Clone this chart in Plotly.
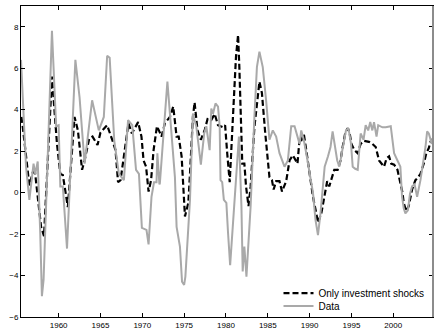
import plotly.graph_objects as go

# Data series
data_years = [1955.5, 1956.1, 1956.5, 1957.0, 1957.2, 1957.5, 1957.8, 1958.0, 1958.2, 1959.2,
              1959.7, 1960.0, 1960.2, 1960.5, 1961.0, 1962.0, 1962.5, 1963.1, 1964.0, 1964.4,
              1964.8, 1965.4, 1965.8, 1966.1, 1966.65, 1967.2, 1967.8, 1968.3, 1968.8, 1969.25,
              1969.6, 1969.95, 1970.5, 1970.75, 1971.1, 1971.4, 1971.7, 1971.8, 1972.05, 1972.1,
              1973.0, 1973.55, 1973.9, 1974.1, 1974.5, 1974.75, 1975.0, 1975.15, 1975.7, 1976.05,
              1976.45, 1976.75, 1977.0, 1977.4, 1977.65, 1978.05, 1978.25, 1978.45, 1978.75, 1979.05,
              1979.25, 1979.35, 1979.55, 1979.75, 1980.05, 1980.25, 1980.5, 1981.55, 1981.85, 1982.0,
              1982.2, 1982.45, 1982.95, 1983.4, 1983.7, 1984.0, 1984.4, 1984.8, 1985.2, 1985.6,
              1986.0, 1986.4, 1987.0, 1987.4, 1987.8, 1988.2, 1988.6, 1988.8, 1989.0, 1989.3,
              1989.6, 1990.0, 1990.4, 1990.7, 1991.0, 1991.3, 1991.8, 1992.2, 1992.5, 1992.75,
              1992.95, 1993.3, 1993.55, 1993.95, 1994.35, 1994.65, 1994.95, 1995.15, 1995.45, 1995.75,
              1996.1, 1996.45, 1996.7, 1997.0, 1997.25, 1997.5, 1997.7, 1998.0, 1998.2, 1998.7,
              1999.1, 1999.7, 2000.1, 2000.5, 2000.85, 2001.05, 2001.25, 2001.45, 2001.75, 2002.0,
              2002.25, 2002.55, 2002.85, 2003.25, 2003.55, 2003.85, 2004.05, 2004.25, 2004.6, 2004.75]
data_values = [6.4, 1.25, -0.35, 1.4, 0.9, 1.5, -1.95, -5.0, -4.2, 7.8,
               3.2, 3.25, 0.3, 0.3, -2.7, 6.4, 4.6, 1.4, 4.45, 3.8,
               3.0, 3.65, 6.6, 6.5, 2.5, 0.9, 0.6, 3.5, 3.25, 1.1,
               0.9, -1.7, -1.8, -2.5, -0.2, 0.5, 0.5, 1.9, 0.4, 0.45,
               5.35, 2.35, 0.75, -1.65, -2.6, -4.3, -4.45, -4.05, -0.35, 3.8,
               3.2, 2.2, 1.35, 2.85, 3.2, 2.05, 4.05, 3.8, 4.3, 4.15,
               3.2, 0.6, 0.5, -0.35, -0.5, -1.95, -3.5, 2.7, -0.65, -3.8,
               -2.6, -4.05, -0.65, 3.65, 6.05, 6.8, 6.05, 4.45, 2.55, 3.0,
               2.7, 1.9, 1.25, 1.55, 3.2, 3.2, 2.7, 2.35, 3.0, 2.55,
               1.9, 0.9, 0.0, -1.3, -2.05, -1.0, 1.25, 1.75, 2.2, 2.95,
               2.35, 1.55, 1.25, 2.2, 3.0, 3.1, 2.35, 1.25, 1.15, 1.1,
               2.85, 2.55, 3.25, 3.0, 3.4, 3.0, 3.4, 2.7, 3.25, 3.15,
               3.15, 3.2, 1.9, 1.55, 1.25, -0.2, -0.75, -1.0, -0.85, -0.05,
               0.3, 0.4, -0.2, 0.6, 1.35, 2.2, 2.95, 2.85, 2.35, 2.65]

model_years = [1955.55, 1955.7, 1956.5, 1956.8, 1957.1, 1957.9, 1958.25, 1959.2, 1959.8, 1960.2,
               1960.5, 1961.1, 1961.9, 1962.3, 1962.8, 1963.1, 1963.65, 1964.05, 1964.65, 1965.0,
               1965.8, 1966.4, 1966.8, 1967.1, 1967.4, 1968.35, 1968.75, 1969.5, 1969.9, 1970.15,
               1970.45, 1970.75, 1971.05, 1971.35, 1971.75, 1972.15, 1972.3, 1972.7, 1973.3, 1973.7,
               1974.1, 1974.35, 1974.7, 1975.1, 1975.5, 1975.7, 1976.05, 1976.25, 1976.6, 1977.0,
               1977.45, 1977.8, 1978.25, 1978.65, 1979.05, 1979.65, 1979.9, 1980.15, 1980.45, 1980.7,
               1980.95, 1981.2, 1981.45, 1981.6, 1981.95, 1982.2, 1982.4, 1982.7, 1982.95, 1983.4,
               1984.0, 1984.3, 1984.7, 1985.2, 1985.5, 1985.7, 1986.0, 1986.4, 1986.7, 1987.2,
               1987.6, 1988.0, 1988.55, 1988.8, 1989.0, 1989.3, 1989.6, 1990.0, 1990.4, 1990.8,
               1991.0, 1991.4, 1991.8, 1992.1, 1992.35, 1992.65, 1992.95, 1993.35, 1993.7, 1993.95,
               1994.25, 1994.55, 1994.75, 1995.0, 1995.35, 1995.75, 1996.1, 1996.5, 1996.85, 1997.1,
               1997.5, 1997.9, 1998.3, 1998.6, 1998.9, 1999.2, 1999.5, 1999.75, 2000.1, 2000.5,
               2000.8, 2001.1, 2001.25, 2001.55, 2001.85, 2002.05, 2002.25, 2002.65, 2002.9, 2003.25,
               2003.65, 2003.95, 2004.25, 2004.45, 2004.75]
model_values = [3.65, 3.2, 0.35, 0.75, 1.25, -1.65, -2.1, 5.6, 2.35, 0.9,
                0.85, -0.7, 3.65, 3.0, 1.1, 1.55, 2.6, 2.7, 2.3, 2.9,
                3.25, 2.55, 2.05, 0.5, 0.6, 3.35, 2.85, 3.4, 2.7, 1.55,
                1.25, 0.05, 0.6, 2.05, 3.2, 2.85, 2.7, 3.35, 3.65, 4.15,
                2.7, 2.7, 1.75, -1.15, -0.5, 0.9, 3.65, 4.35, 3.0, 2.55,
                3.0, 3.55, 3.5, 3.8, 3.25, 3.15, 3.25, 1.9, 0.5, 2.55,
                4.8, 6.55, 7.6, 6.05, 1.4, 1.4, 0.3, -0.65, 0.3, 3.15,
                5.35, 4.8, 2.85, 0.75, 0.6, 0.15, 0.55, 0.55, 0.05, 0.55,
                1.55, 1.8, 1.4, 2.6, 2.5, 2.85, 2.05, 0.9, -0.2, -1.0,
                -1.45, -1.0, 0.0, 0.55, 0.3, 0.75, 1.1, 1.1, 1.55, 2.2,
                2.85, 3.1, 2.95, 2.35, 2.05, 1.9, 2.35, 2.5, 2.45, 2.45,
                2.35, 2.2, 1.55, 1.4, 1.25, 1.65, 1.75, 1.4, 1.35, 1.1,
                0.6, 0.0, -0.5, -0.9, -0.65, -0.2, 0.15, 0.6, 0.7, 0.9,
                1.4, 1.9, 2.15, 2.45, 2.6]

x_ticks = [1960, 1965, 1970, 1975, 1980, 1985, 1990, 1995, 2000]
y_ticks = [-6, -4, -2, 0, 2, 4, 6, 8]

FONT = "Liberation Sans, Arial, sans-serif"

fig = go.Figure()
fig.add_trace(go.Scatter(x=model_years, y=model_values, mode="lines",
                         name="Only investment shocks", legend="legend",
                         line=dict(color="black", width=2.2, dash="6px,3px")))
fig.add_trace(go.Scatter(x=data_years, y=data_values, mode="lines",
                         name="Data", legend="legend2",
                         line=dict(color="#a9a9a9", width=2)))

axis_common = dict(showgrid=False, zeroline=False, showline=True, linecolor="black",
                   linewidth=1, mirror="allticks", ticks="inside", ticklen=4,
                   tickcolor="black", tickfont=dict(size=8, color="black", family=FONT))

fig.update_xaxes(range=[1955.5, 2004.75], tickvals=x_ticks, **axis_common)
fig.update_yaxes(range=[-6, 9], tickvals=y_ticks, **axis_common)

# right frame edge drawn in grey as in the reference
fig.add_shape(type="line", xref="paper", yref="paper", x0=1, x1=1, y0=0, y1=1,
              line=dict(color="#8c8c8c", width=2))

leg_common = dict(xanchor="left", yanchor="middle",
                  bgcolor="rgba(255,255,255,0)", borderwidth=0,
                  font=dict(size=10, color="black", family=FONT),
                  itemwidth=30)

fig.update_layout(
    width=435, height=331,
    margin=dict(l=21, r=2, t=6, b=14),
    paper_bgcolor="white", plot_bgcolor="white",
    showlegend=True,
    legend=dict(x=0.625, y=0.077, **leg_common),
    legend2=dict(x=0.625, y=0.035, **leg_common),
)

fig.write_html("out.html",
               config={"displayModeBar": False},
               post_script="document.body.style.margin='0';document.body.style.padding='0';")
